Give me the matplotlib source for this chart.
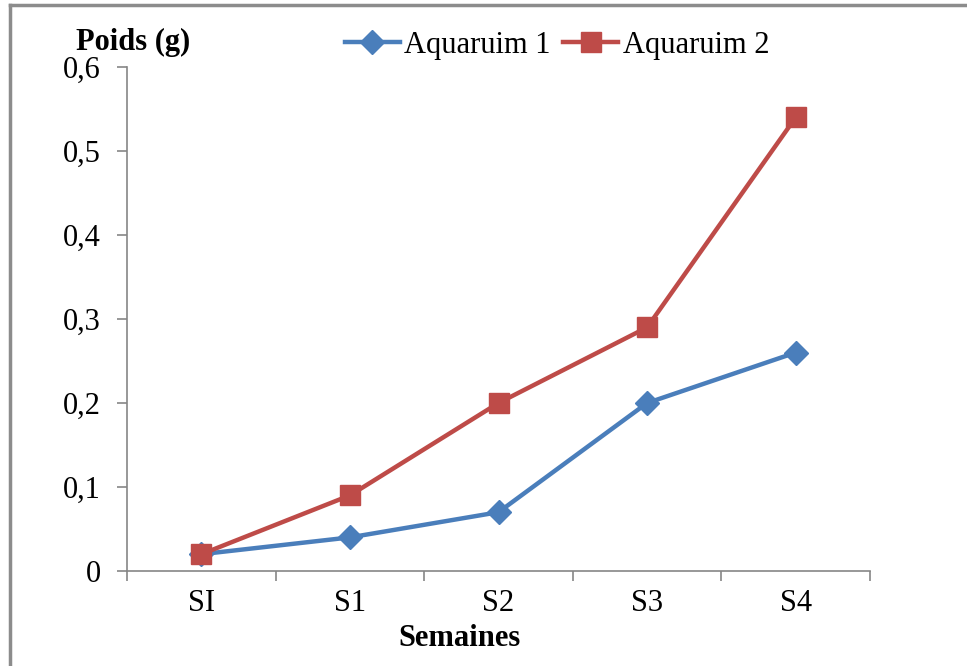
import matplotlib
matplotlib.use("Agg")
import matplotlib.pyplot as plt
from matplotlib.lines import Line2D
from matplotlib.ticker import FixedLocator, FixedFormatter

categories = ["SI", "S1", "S2", "S3", "S4"]
aquarium1 = [0.02, 0.04, 0.07, 0.20, 0.26]
aquarium2 = [0.02, 0.09, 0.20, 0.29, 0.54]
series_names = ["Aquaruim 1", "Aquaruim 2"]
y_ticks = [0, 0.1, 0.2, 0.3, 0.4, 0.5, 0.6]
y_tick_labels = ["0", "0,1", "0,2", "0,3", "0,4", "0,5", "0,6"]

plt.rcParams['font.family'] = ['Liberation Serif', 'DejaVu Serif']
FS = 22
W, H = 967, 666
fig = plt.figure(figsize=(W / 100, H / 100), dpi=100)
ax = fig.add_axes([127 / W, 1 - 571 / H, (870 - 127) / W, (571 - 67) / H])

blue = "#4A7EBB"
red = "#BE4B48"
x = list(range(len(categories)))
l1, = ax.plot(x, aquarium1, color=blue, lw=3.2, marker="D", ms=12,
              markerfacecolor=blue, markeredgecolor=blue, zorder=3, clip_on=False)
l2, = ax.plot(x, aquarium2, color=red, lw=3.2, marker="s", ms=14,
              markerfacecolor=red, markeredgecolor=red, zorder=4, clip_on=False)

ax.set_xlim(-0.5, len(categories) - 0.5)
ax.set_ylim(0, 0.6)
spine_c = "#868686"
for s in ["top", "right"]:
    ax.spines[s].set_visible(False)
for s in ["left", "bottom"]:
    ax.spines[s].set_color(spine_c)
    ax.spines[s].set_linewidth(1.2)

ax.yaxis.set_major_locator(FixedLocator(y_ticks))
ax.yaxis.set_major_formatter(FixedFormatter(y_tick_labels))
ax.set_xticks([i + 0.5 for i in range(-1, len(categories))])
ax.set_xticklabels([])
ax.set_xticks(x, minor=True)
ax.set_xticklabels(categories, minor=True)
ax.tick_params(axis="x", which="major", length=7, width=1.2, color=spine_c, direction="out")
ax.tick_params(axis="x", which="minor", length=0, pad=13, labelsize=FS)
ax.tick_params(axis="y", which="major", length=7, width=1.2, color=spine_c,
               direction="out", labelsize=FS, pad=12)

fig.text(133 / W, 1 - 42 / H, "Poids (g)", ha="center", va="center",
         fontsize=FS, fontweight="bold")
fig.text(460 / W, 1 - 638 / H, "Semaines", ha="center", va="center",
         fontsize=FS, fontweight="bold")

fig.legend([l1, l2], series_names, loc="center", bbox_to_anchor=(557 / W, 1 - 45 / H),
           ncol=2, frameon=False, fontsize=FS, handlelength=1.8, handletextpad=0.15,
           columnspacing=0.4, borderaxespad=0, borderpad=0)

border_c = "#8C8C8C"
fig.add_artist(Line2D([10 / W, 1], [1 - 5 / H, 1 - 5 / H], transform=fig.transFigure,
                      color=border_c, lw=2.5))
fig.add_artist(Line2D([10 / W, 10 / W], [0, 1 - 5 / H], transform=fig.transFigure,
                      color=border_c, lw=2.5))

fig.savefig("out.png", dpi=100)
